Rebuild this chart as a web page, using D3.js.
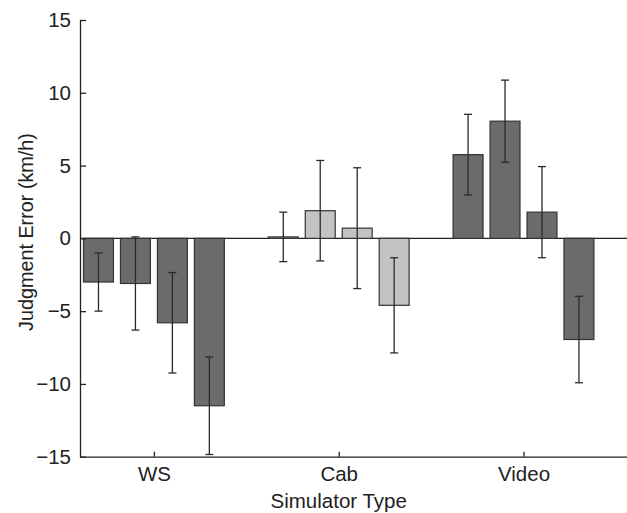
<!DOCTYPE html>
<html>
<head>
<meta charset="utf-8">
<script src="https://cdn.jsdelivr.net/npm/d3@7"></script>
<style>
  body { margin: 0; background: #fff; }
  text { font-family: 'Liberation Sans', Arial, sans-serif; fill: #222; }
</style>
</head>
<body>
<svg id="chart" width="627" height="513"></svg>
<script>
// Simulator types and the four bars in each group
const categories = ['WS', 'Cab', 'Video'];
const means = [
  [-3.0, -3.1, -5.8, -11.5],
  [0.1, 1.9, 0.7, -4.6],
  [5.75, 8.05, 1.8, -6.95]
];
const errors = [
  [2.0, 3.2, 3.45, 3.35],
  [1.7, 3.45, 4.15, 3.27],
  [2.77, 2.82, 3.13, 2.97]
];
const yTicks = [-15, -10, -5, 0, 5, 10, 15];
const groupColors = ['#6b6b6b', '#c3c3c3', '#6b6b6b'];

const svg = d3.select('#chart');

// x in "group units": group i sits at i + 1
const x = d3.scaleLinear().domain([0.6, 3.56]).range([80, 627]);
const y = d3.scaleLinear().domain([-15, 15]).range([456.7, 20]);

const barOffset = 0.2;
const barWidth = 0.162;

// flatten to one record per bar
const bars = [];
means.forEach(function (row, i) {
  row.forEach(function (v, j) {
    bars.push({
      group: i,
      pos: i + 1 + (j - 1.5) * barOffset,
      value: v,
      err: errors[i][j]
    });
  });
});

// zero line
svg.append('line')
  .attr('x1', x(0.6)).attr('x2', x(3.56))
  .attr('y1', y(0)).attr('y2', y(0))
  .attr('stroke', '#222').attr('stroke-width', 1.2);

// bars
svg.append('g')
  .selectAll('rect')
  .data(bars)
  .enter()
  .append('rect')
  .attr('x', d => x(d.pos - barWidth / 2))
  .attr('width', d => x(barWidth) - x(0))
  .attr('y', d => y(Math.max(0, d.value)))
  .attr('height', d => Math.abs(y(d.value) - y(0)))
  .attr('fill', d => groupColors[d.group])
  .attr('stroke', '#333')
  .attr('stroke-width', 1.2);

// error bars
const eb = svg.append('g')
  .selectAll('g')
  .data(bars)
  .enter()
  .append('g')
  .attr('stroke', '#2a2a2a')
  .attr('stroke-width', 1.3);

eb.append('line')
  .attr('x1', d => x(d.pos)).attr('x2', d => x(d.pos))
  .attr('y1', d => y(d.value + d.err))
  .attr('y2', d => y(d.value - d.err));

eb.append('line')
  .attr('x1', d => x(d.pos) - 4).attr('x2', d => x(d.pos) + 4)
  .attr('y1', d => y(d.value + d.err))
  .attr('y2', d => y(d.value + d.err));

eb.append('line')
  .attr('x1', d => x(d.pos) - 4).attr('x2', d => x(d.pos) + 4)
  .attr('y1', d => y(d.value - d.err))
  .attr('y2', d => y(d.value - d.err));

// y axis
const yAxis = svg.append('g')
  .attr('transform', 'translate(' + x(0.6) + ',0)')
  .call(d3.axisLeft(y).tickValues(yTicks).tickSizeInner(-6).tickSizeOuter(0).tickPadding(9));

// x axis
const xAxis = svg.append('g')
  .attr('transform', 'translate(0,' + y(-15) + ')')
  .call(d3.axisBottom(x).tickValues([1, 2, 3])
    .tickFormat((d, i) => categories[i])
    .tickSizeInner(-5).tickSizeOuter(0).tickPadding(10));

[yAxis, xAxis].forEach(function (a) {
  a.selectAll('path, line').attr('stroke', '#222').attr('stroke-width', 1.3);
  a.selectAll('text')
    .style('font-family', "'Liberation Sans', Arial, sans-serif")
    .style('font-size', '20.5px')
    .attr('fill', '#222');
});

// axis titles
svg.append('text')
  .attr('x', x(2))
  .attr('y', 508)
  .attr('text-anchor', 'middle')
  .style('font-size', '20.5px')
  .text('Simulator Type');

svg.append('text')
  .attr('transform', 'translate(33,232) rotate(-90)')
  .attr('text-anchor', 'middle')
  .style('font-size', '19.8px')
  .text('Judgment Error (km/h)');
</script>
</body>
</html>
